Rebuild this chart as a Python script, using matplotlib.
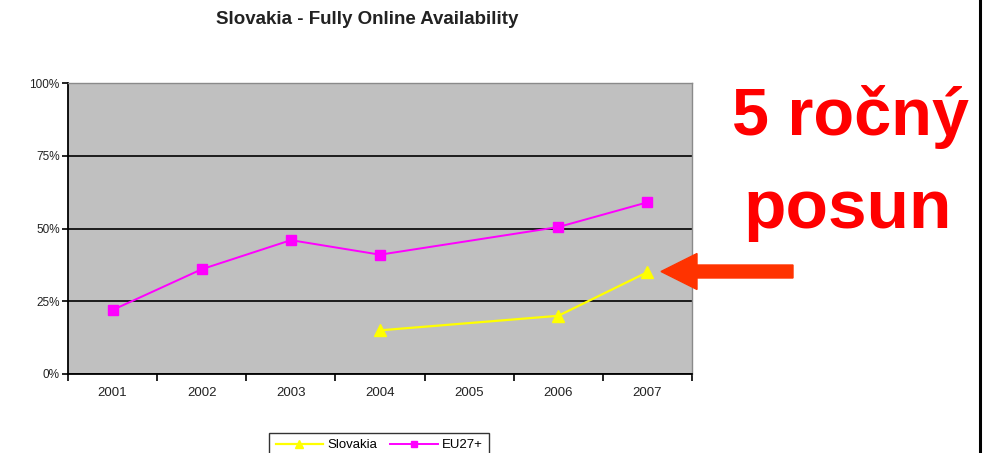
import matplotlib
matplotlib.use("Agg")
import matplotlib.pyplot as plt
import matplotlib.patches as mpatches
import numpy as np

plt.rcParams["font.family"] = ["Liberation Sans", "DejaVu Sans"]

# ---- data ----
years = ["2001", "2002", "2003", "2004", "2005", "2006", "2007"]
eu27 = [22, 36, 46, 41, None, 50.5, 59]
slovakia = [None, None, None, 15, None, 20, 35]
y_ticks = [0, 25, 50, 75, 100]
y_tick_labels = ["0%", "25%", "50%", "75%", "100%"]

W, H = 989, 453
fig = plt.figure(figsize=(W / 100, H / 100), dpi=100)

# plot area in pixel coords: x 68..692, y 83..374
ax = fig.add_axes([68 / W, 1 - 374 / H, (692 - 68) / W, (374 - 83) / H])
ax.set_facecolor("#c0c0c0")


def _series(vals):
    xs = [i for i, v in enumerate(vals) if v is not None]
    ys = [v for v in vals if v is not None]
    return xs, ys


xs, ys = _series(slovakia)
ax.plot(xs, ys, color="#ffff00", lw=1.6, marker="^", ms=9,
        markeredgecolor="#ffff00", label="Slovakia", zorder=4)
xs, ys = _series(eu27)
ax.plot(xs, ys, color="#ff00ff", lw=1.4, marker="s", ms=7,
        markeredgecolor="#ff00ff", label="EU27+", zorder=4)

ax.set_xlim(-0.5, len(years) - 0.5)
ax.set_ylim(0, 100)

# category boundary ticks, labels at centres
ax.set_xticks(np.arange(-0.5, len(years), 1.0))
ax.set_xticklabels([])
ax.set_xticks(np.arange(len(years)), minor=True)
ax.set_xticklabels(years, minor=True, fontsize=9.5, color="#222222")
ax.tick_params(axis="x", which="major", direction="out", length=5, width=1.2, color="black")
ax.tick_params(axis="x", which="minor", length=0, pad=9)

ax.set_yticks(y_ticks)
ax.set_yticklabels(y_tick_labels, fontsize=8.5, color="#222222")
ax.tick_params(axis="y", direction="out", length=4, width=1.2, color="black", pad=2)

ax.yaxis.grid(True, color="black", lw=1.2)
ax.set_axisbelow(True)
for s in ("left", "bottom"):
    ax.spines[s].set_color("black")
    ax.spines[s].set_linewidth(1.3)
for s in ("top", "right"):
    ax.spines[s].set_color("#8a8a8a")
    ax.spines[s].set_linewidth(1.0)

fig.text(367 / W, 1 - 20 / H, "Slovakia - Fully Online Availability",
         ha="center", va="center", fontsize=13.5, fontweight="bold", color="#222222")

leg = fig.legend(loc="upper center", bbox_to_anchor=(379 / W, 1 - 426 / H),
                 ncol=2, fontsize=9.5, frameon=True, fancybox=False,
                 edgecolor="black", handlelength=3.6, columnspacing=1.0,
                 handletextpad=0.3, borderpad=0.5, markerscale=0.7)
leg.get_frame().set_linewidth(1.0)

# red annotation text
fig.text(850 / W, 1 - 135 / H, "5 ročný", ha="center", va="baseline",
         fontsize=48, fontweight="bold", color="#ff0000")
fig.text(848 / W, 1 - 228 / H, "posun", ha="center", va="baseline",
         fontsize=50, fontweight="bold", color="#ff0000")

# orange arrow pointing at the 2007 Slovakia value
arrow = mpatches.FancyArrow(793 / W, 1 - 271.5 / H, -(793 - 661) / W, 0,
                            width=13 / H, head_width=36 / H, head_length=36 / W,
                            length_includes_head=True, color="#ff3300",
                            transform=fig.transFigure, figure=fig)
fig.patches.append(arrow)

# vertical black rule on the right
fig.add_artist(plt.Line2D([980 / W, 980 / W], [0, 1], color="black", lw=2.2,
                          transform=fig.transFigure))

fig.savefig("out.png", dpi=100)
